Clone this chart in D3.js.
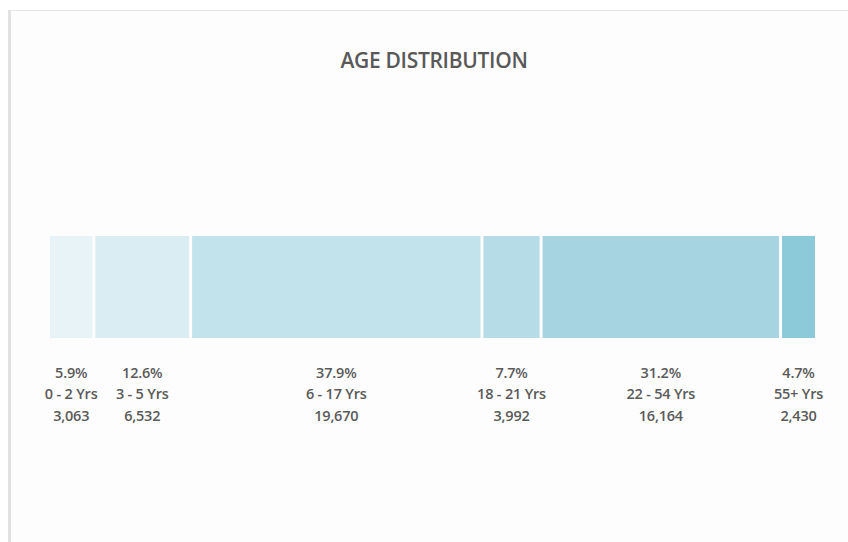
<!DOCTYPE html>
<html>
<head>
<meta charset="utf-8">
<script src="https://cdn.jsdelivr.net/npm/d3@7"></script>
<style>
  html, body { margin: 0; padding: 0; background: #fff; }
  svg { display: block; }
</style>
</head>
<body>
<svg id="chart" width="848" height="542"></svg>
<script>
// age groups, counts and segment colours
var groups = ['0 - 2 Yrs', '3 - 5 Yrs', '6 - 17 Yrs', '18 - 21 Yrs', '22 - 54 Yrs', '55+ Yrs'];
var counts = [3063, 6532, 19670, 3992, 16164, 2430];
var colors = ['#e7f3f7', '#d9edf3', '#c2e3ec', '#b5dce7', '#a7d4e1', '#8ccad9'];

var W = 848, H = 542;
var svg = d3.select('#chart');

// frame of the chart area
svg.append('rect').attr('x', 9).attr('y', 10).attr('width', W).attr('height', H)
    .attr('fill', '#fdfdfd');
svg.append('line').attr('x1', 8).attr('x2', W).attr('y1', 10.5).attr('y2', 10.5)
    .attr('stroke', '#e6e6e6').attr('stroke-width', 1);
svg.append('rect').attr('x', 8).attr('y', 10).attr('width', 3).attr('height', H)
    .attr('fill', '#e2e2e2');

svg.append('text')
    .attr('x', 434).attr('y', 68)
    .attr('text-anchor', 'middle')
    .style('font-family', '"Open Sans", sans-serif')
    .style('font-weight', 600)
    .style('font-size', '21px')
    .style('letter-spacing', '-0.3px')
    .style('fill', '#595959')
    .text('AGE DISTRIBUTION');

var total = d3.sum(counts);
var cum = 0;
var rows = counts.map(function (c, i) {
    var r = {name: groups[i], count: c, start: cum, color: colors[i]};
    cum += c;
    return r;
});

var x = d3.scaleLinear().domain([0, total]).range([50, 818]);
var gap = 3;
var barTop = 236, barH = 102;
var pct = d3.format('.1%');
var num = d3.format(',');

var segs = svg.selectAll('g.seg').data(rows).enter().append('g').attr('class', 'seg');

segs.append('rect')
    .attr('x', function (d) { return x(d.start); })
    .attr('y', barTop)
    .attr('width', function (d) { return x(d.start + d.count) - x(d.start) - gap; })
    .attr('height', barH)
    .attr('fill', function (d) { return d.color; });

var lab = segs.append('text')
    .attr('text-anchor', 'middle')
    .attr('transform', function (d) {
        var cx = (x(d.start) + x(d.start + d.count) - gap) / 2;
        return 'translate(' + cx + ',0)';
    })
    .style('font-family', '"Open Sans", sans-serif')
    .style('font-weight', 600)
    .style('font-size', '14.5px')
    .style('letter-spacing', '-0.2px')
    .style('fill', '#5a5a5a');

lab.append('tspan').attr('x', 0).attr('y', 378).text(function (d) { return pct(d.count / total); });
lab.append('tspan').attr('x', 0).attr('y', 399).text(function (d) { return d.name; });
lab.append('tspan').attr('x', 0).attr('y', 421).text(function (d) { return num(d.count); });
</script>
</body>
</html>
